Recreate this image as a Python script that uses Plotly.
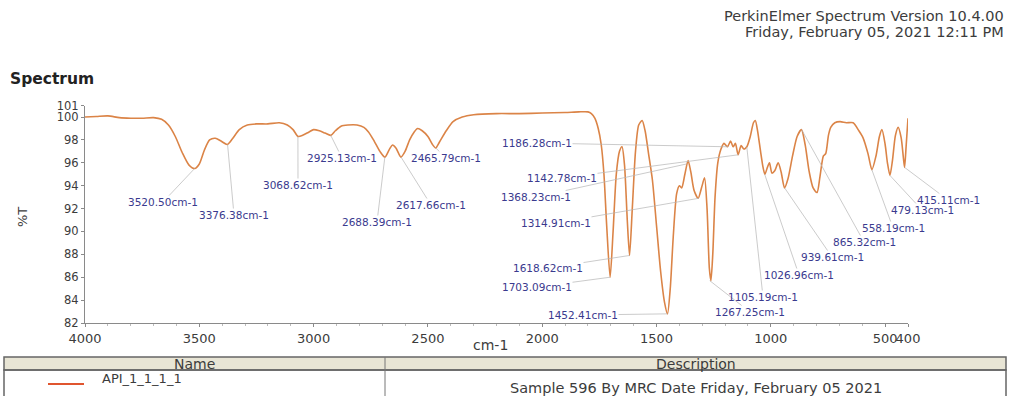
import plotly.graph_objects as go

# ---------------- data ----------------
WAVENUMBER = [4000, 3950, 3900, 3850, 3800, 3750, 3700, 3665, 3635, 3605, 3575, 3545, 3520, 3500,
              3478, 3455, 3430, 3405, 3378, 3355, 3325, 3290, 3250, 3200, 3150, 3115, 3090, 3068,
              3048, 3020, 3000, 2975, 2950, 2925, 2905, 2880, 2850, 2810, 2780, 2760, 2735, 2710,
              2688, 2668, 2655, 2640, 2618, 2600, 2580, 2560, 2545, 2525, 2500, 2480, 2466, 2450,
              2420, 2390, 2350, 2300, 2200, 2100, 2000, 1900, 1840, 1800, 1785, 1770, 1755, 1742,
              1730, 1718, 1703, 1690, 1676, 1662, 1651, 1640, 1628, 1618, 1606, 1592, 1578, 1563,
              1550, 1535, 1518, 1500, 1482, 1465, 1452, 1440, 1427, 1412, 1400, 1390, 1376, 1362,
              1350, 1336, 1318, 1302, 1290, 1279, 1269, 1262, 1254, 1244, 1232, 1218, 1205, 1190,
              1176, 1165, 1155, 1143, 1130, 1118, 1105, 1090, 1076, 1068, 1058, 1045, 1034, 1026,
              1015, 1006, 995, 983, 968, 955, 940, 925, 905, 885, 866, 850, 832, 815, 798, 785,
              770, 760, 748, 738, 720, 697, 670, 640, 615, 597, 575, 558, 540, 525, 514, 500, 490,
              479, 468, 455, 443, 430, 420, 415, 408, 400]
TRANSMITTANCE = [100.00, 100.05, 100.10, 99.95, 99.90, 99.90, 99.95, 99.80, 99.30, 98.30, 96.90, 95.80,
                 95.50, 95.90, 97.10, 98.00, 98.15, 97.90, 97.60, 98.10, 98.90, 99.30, 99.40, 99.40,
                 99.50, 99.30, 98.90, 98.30, 98.40, 98.70, 98.90, 98.80, 98.60, 98.40, 98.80, 99.20,
                 99.30, 99.30, 99.10, 98.70, 97.90, 97.00, 96.50, 97.20, 97.55, 97.30, 96.50, 97.00,
                 98.00, 98.70, 99.00, 98.80, 98.30, 97.60, 97.30, 97.80, 98.80, 99.60, 100.00, 100.20,
                 100.30, 100.30, 100.35, 100.40, 100.45, 100.45, 100.30, 99.90, 99.00, 97.60, 95.00,
                 90.50, 86.00, 90.00, 95.00, 97.00, 97.40, 95.80, 91.00, 87.90, 92.00, 97.00, 99.30,
                 99.70, 98.80, 96.80, 94.50, 90.50, 86.50, 83.80, 82.80, 85.00, 89.50, 93.30, 94.00,
                 93.80, 95.00, 96.20, 95.20, 93.60, 92.90, 93.90, 94.70, 92.00, 86.80, 85.70, 88.00,
                 93.00, 96.00, 97.20, 97.70, 97.40, 97.90, 97.40, 97.70, 96.70, 97.50, 97.20, 97.40,
                 98.30, 99.50, 99.70, 98.80, 97.00, 95.60, 95.00, 95.60, 96.00, 95.10, 95.30, 96.00,
                 95.20, 93.80, 94.60, 96.60, 98.30, 98.90, 97.60, 95.20, 93.80, 93.40, 94.80, 96.60,
                 96.80, 98.40, 99.10, 99.50, 99.60, 99.50, 99.50, 98.80, 98.20, 96.80, 95.40, 96.60,
                 98.30, 98.90, 97.60, 96.00, 94.90, 96.20, 98.40, 99.10, 98.20, 96.40, 95.60, 97.50,
                 99.90]

PEAK_LABELS = ["3520.50cm-1", "3376.38cm-1", "3068.62cm-1", "2925.13cm-1", "2688.39cm-1",
               "2617.66cm-1", "2465.79cm-1", "1186.28cm-1", "1142.78cm-1", "1368.23cm-1",
               "1314.91cm-1", "1618.62cm-1", "1703.09cm-1", "1452.41cm-1", "1267.25cm-1",
               "1105.19cm-1", "1026.96cm-1", "939.61cm-1", "865.32cm-1", "558.19cm-1",
               "479.13cm-1", "415.11cm-1"]
PEAK_WN = [3520.50, 3376.38, 3068.62, 2925.13, 2688.39, 2617.66, 2465.79, 1186.28, 1142.78,
           1368.23, 1314.91, 1618.62, 1703.09, 1452.41, 1267.25, 1105.19, 1026.96, 939.61,
           865.32, 558.19, 479.13, 415.11]
PEAK_T = [95.5, 97.6, 98.3, 98.4, 96.5, 96.5, 97.3, 97.4, 96.7, 95.9, 92.9, 87.9, 86.0, 82.8,
          85.7, 97.4, 95.0, 93.8, 98.9, 95.4, 94.9, 95.6]

X_TICKS = [4000, 3500, 3000, 2500, 2000, 1500, 1000, 500, 400]
X_TICK_TEXT = ["4000", "3500", "3000", "2500", "2000", "1500", "1000", "500", "400"]
Y_TICKS = [82, 84, 86, 88, 90, 92, 94, 96, 98, 100, 101]
Y_TICK_TEXT = ["82", "84", "86", "88", "90", "92", "94", "96", "98", "100", "101"]

HEADER_LINES = ["PerkinElmer Spectrum Version 10.4.00", "Friday, February 05, 2021 12:11 PM"]
CHART_TITLE = "Spectrum"
X_TITLE = "cm-1"
Y_TITLE = "%T"
TABLE_HEADER = ["Name", "Description"]
TABLE_ROW = ["API_1_1_1_1", "Sample 596 By MRC Date Friday, February 05 2021"]

# ---------------- layout geometry (pixels) ----------------
W, H = 1009, 396
PX_L, PX_R = 85, 908
PY_T, PY_B = 105.6, 323
X0, X1 = 4000, 400
Y0, Y1 = 82, 101

# label centre positions in pixels (layout only)
LABEL_POS = [(163, 202), (234, 215), (298, 185), (342, 158), (377, 222), (431, 205), (446, 158),
             (537, 143), (562, 178), (536, 197), (556, 223), (548, 268), (537, 287), (583, 315),
             (750, 312), (763, 297), (799, 275), (832, 257), (864, 242), (893, 228), (922, 210),
             (948, 200)]


def fx(px):
    return px / W


def fy(py):
    return 1 - py / H


def px2wn(px):
    return X0 + (px - PX_L) / (PX_R - PX_L) * (X1 - X0)


def py2t(py):
    return Y1 - (py - PY_T) / (PY_B - PY_T) * (Y1 - Y0)


FONT = "DejaVu Sans"
LINE_COLOR = "#DB8447"
LABEL_COLOR = "#3a3a8e"
TEXT_COLOR = "#3c3c3c"

fig = go.Figure()
fig.add_trace(go.Scatter(
    x=WAVENUMBER, y=TRANSMITTANCE, mode="lines",
    line=dict(color=LINE_COLOR, width=1.6, shape="spline", smoothing=0.7),
    hoverinfo="skip", showlegend=False,
))

annotations = []
for lab, wn, t, (lx, ly) in zip(PEAK_LABELS, PEAK_WN, PEAK_T, LABEL_POS):
    annotations.append(dict(
        x=wn, y=t, xref="x", yref="y",
        ax=px2wn(lx), ay=py2t(ly), axref="x", ayref="y",
        text=lab, showarrow=True, arrowhead=0, arrowwidth=0.7, arrowcolor="#b5b5b5",
        standoff=0, startstandoff=0, borderpad=0,
        font=dict(family=FONT, size=10.5, color=LABEL_COLOR),
    ))


def text_ann(px, py, text, size, anchor="center", color=TEXT_COLOR, angle=0):
    return dict(x=fx(px), y=fy(py), xref="paper", yref="paper", xanchor=anchor,
                yanchor="middle", text=text, showarrow=False, textangle=angle,
                font=dict(family=FONT, size=size, color=color))


annotations.append(text_ann(1006, 16.5, HEADER_LINES[0], 14.5, "right"))
annotations.append(text_ann(1006, 32, HEADER_LINES[1], 14.5, "right"))
annotations.append(text_ann(8, 79, "<b>" + CHART_TITLE + "</b>", 15.5, "left", "#222222"))
annotations.append(text_ann(22, 217, Y_TITLE, 13, "center", angle=-90))
annotations.append(text_ann(490, 345, X_TITLE, 14, "center"))

# table
TB_L, TB_R, TB_DIV = 4, 1006, 385
TB_TOP, TB_MID, TB_BOT = 357, 370, 396
shapes = [
    dict(type="rect", xref="paper", yref="paper", x0=fx(TB_L), x1=fx(TB_R), y0=fy(TB_MID), y1=fy(TB_TOP),
         fillcolor="#E8E5D5", line=dict(color="#666666", width=1.5), layer="above"),
    dict(type="rect", xref="paper", yref="paper", x0=fx(TB_L), x1=fx(TB_R), y0=fy(TB_BOT + 2), y1=fy(TB_MID),
         fillcolor="rgba(0,0,0,0)", line=dict(color="#666666", width=1.5), layer="above"),
    dict(type="line", xref="paper", yref="paper", x0=fx(TB_DIV), x1=fx(TB_DIV), y0=fy(TB_BOT + 2), y1=fy(TB_TOP),
         line=dict(color="#777777", width=1), layer="above"),
    dict(type="line", xref="paper", yref="paper", x0=fx(48), x1=fx(84), y0=fy(384), y1=fy(384),
         line=dict(color="#E0552F", width=2), layer="above"),
]
annotations.append(text_ann((TB_L + TB_DIV) / 2, 363.5, TABLE_HEADER[0], 14))
annotations.append(text_ann((TB_DIV + TB_R) / 2, 363.5, TABLE_HEADER[1], 14))
annotations.append(text_ann(100, 378, TABLE_ROW[0], 13, "left"))
annotations.append(text_ann((TB_DIV + TB_R) / 2, 388, TABLE_ROW[1], 14.5))

fig.update_layout(
    width=W, height=H,
    margin=dict(l=0, r=0, t=0, b=0, autoexpand=False),
    paper_bgcolor="white", plot_bgcolor="white",
    showlegend=False,
    annotations=annotations,
    shapes=shapes,
    xaxis=dict(
        domain=[fx(PX_L), fx(PX_R)], range=[X0, X1], automargin=False,
        tickmode="array", tickvals=X_TICKS, ticktext=X_TICK_TEXT, tickangle=0,
        showgrid=False, zeroline=False, showline=True, linecolor="#8a8a8a", linewidth=1,
        ticks="outside", ticklen=3, tickcolor="#8a8a8a",
        minor=dict(dtick=100, ticks="outside", ticklen=2, tickcolor="#bbbbbb", showgrid=False),
        tickfont=dict(family=FONT, size=13, color=TEXT_COLOR),
    ),
    yaxis=dict(
        domain=[fy(PY_B), fy(PY_T)], range=[Y0, Y1], automargin=False,
        tickmode="array", tickvals=Y_TICKS, ticktext=Y_TICK_TEXT,
        showgrid=False, zeroline=False, showline=True, linecolor="#8a8a8a", linewidth=1,
        ticks="outside", ticklen=3, tickcolor="#8a8a8a",
        tickfont=dict(family=FONT, size=11.5, color=TEXT_COLOR),
    ),
)

fig.write_html("out.html", config={"displayModeBar": False},
               post_script="document.body.style.margin='0px';")
